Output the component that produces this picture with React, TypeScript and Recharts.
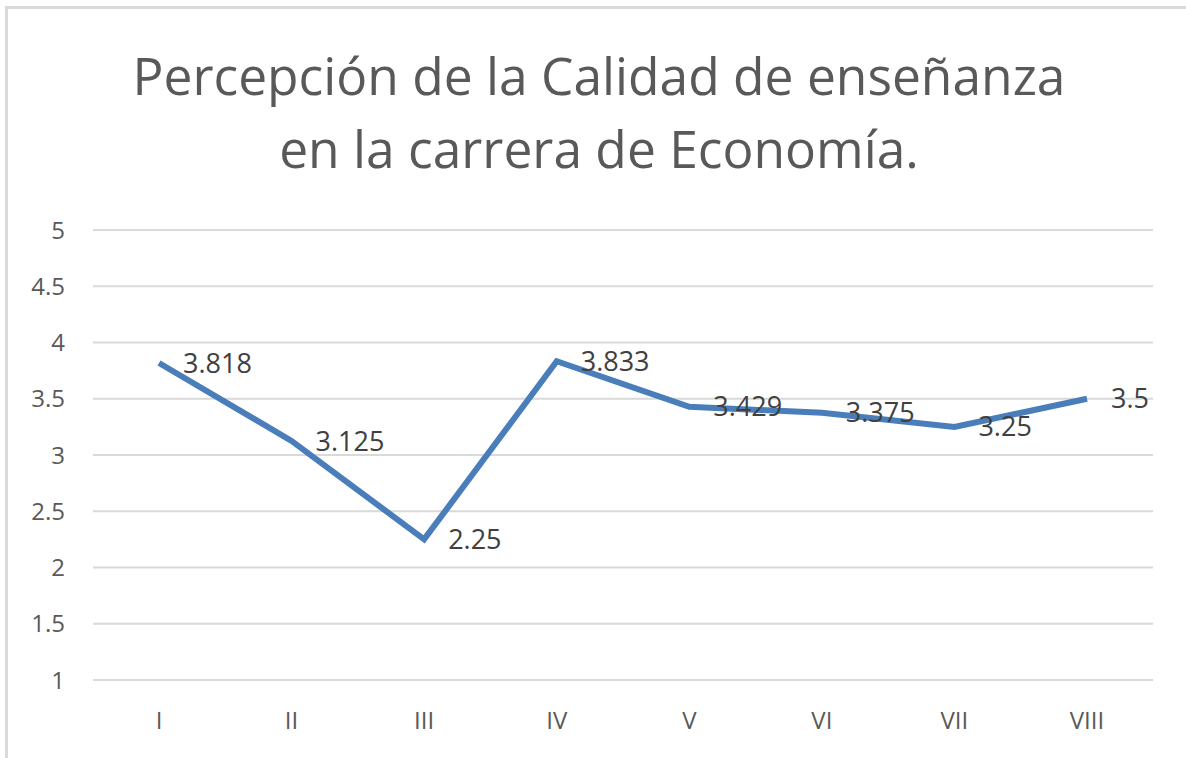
import { LineChart, Line, XAxis, YAxis, CartesianGrid, LabelList } from "recharts"

const semesters = ["I", "II", "III", "IV", "V", "VI", "VII", "VIII"]
const scores = [3.818, 3.125, 2.25, 3.833, 3.429, 3.375, 3.25, 3.5]
const yTicks = [1, 1.5, 2, 2.5, 3, 3.5, 4, 4.5, 5]
const titleLines = ["Percepción de la Calidad de enseñanza", "en la carrera de Economía."]

const FONT = "'Open Sans', 'Noto Sans', sans-serif"

const data = semesters.map((s, i) => ({ semestre: s, valor: scores[i] }))

export default function App() {
  return (
    <div style={{ position: "fixed", left: 0, top: 0, width: 1186, height: 758, background: "#fff", overflow: "hidden" }}>
      <div
        style={{
          position: "absolute",
          left: 5,
          top: 6,
          width: 1200,
          height: 800,
          borderTop: "3px solid #d9d9d9",
          borderLeft: "3px solid #d9d9d9",
        }}
      />
      <svg width={1186} height={200} style={{ position: "absolute", left: 0, top: 0 }}>
        {titleLines.map((t, i) => (
          <text
            key={t}
            x={599}
            y={95 + i * 73}
            textAnchor="middle"
            fontFamily={FONT}
            fontSize={51.5}
            fill="#595959"
          >
            {t}
          </text>
        ))}
      </svg>
      <div style={{ position: "absolute", left: 0, top: 0 }}>
        <LineChart width={1186} height={758} data={data} margin={{ top: 230, right: 33, left: 0, bottom: 0 }}>
          <CartesianGrid vertical={false} stroke="#d9d9d9" strokeWidth={2} />
          <XAxis
            dataKey="semestre"
            axisLine={false}
            tickLine={false}
            tickSize={0}
            tickMargin={32}
            height={78}
            padding={{ left: 66, right: 66 }}
            tick={{ fill: "#595959", fontSize: 24, fontFamily: FONT }}
          />
          <YAxis
            domain={[1, 5]}
            ticks={yTicks}
            axisLine={false}
            tickLine={false}
            tickSize={0}
            tickMargin={28}
            width={93}
            tick={{ fill: "#595959", fontSize: 24, fontFamily: FONT }}
          />
          <Line
            type="linear"
            dataKey="valor"
            stroke="#4a7ebb"
            strokeWidth={6}
            dot={false}
            activeDot={false}
            isAnimationActive={false}
          >
            <LabelList dataKey="valor" position="right" offset={24} fill="#404040" fontSize={27} fontFamily={FONT} />
          </Line>
        </LineChart>
      </div>
    </div>
  )
}
